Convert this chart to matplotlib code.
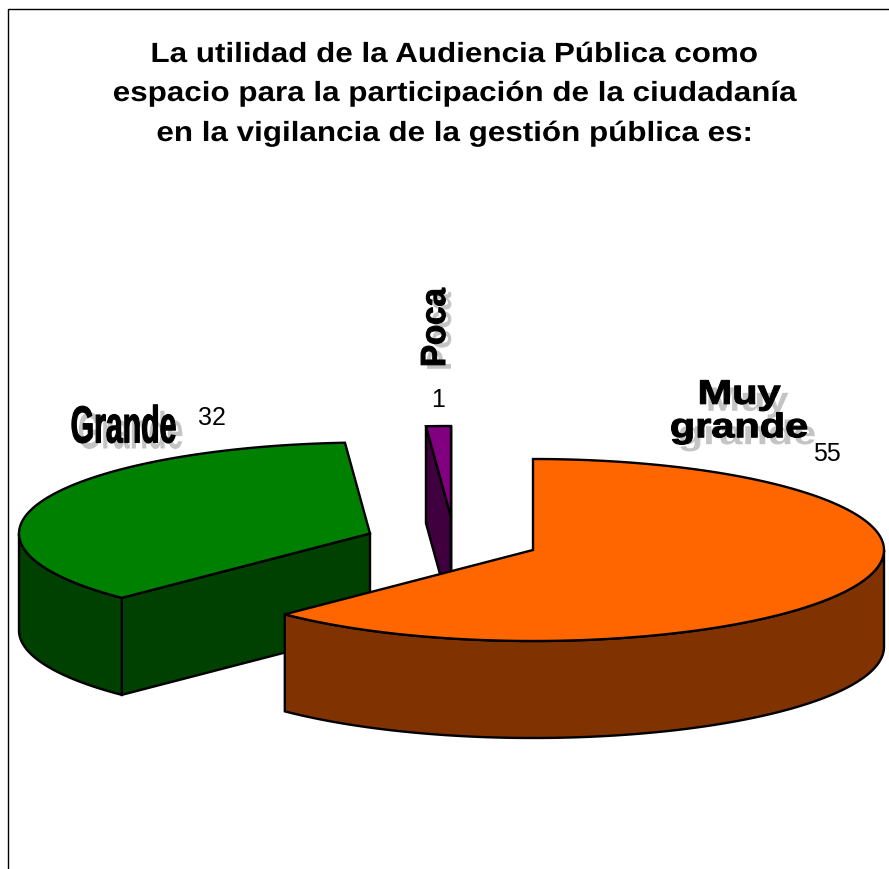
import numpy as np
import matplotlib
matplotlib.use("Agg")
import matplotlib.pyplot as plt
from matplotlib.patches import Polygon
from matplotlib.patheffects import AbstractPathEffect
from matplotlib.transforms import Affine2D

# --- data ---
categories = ["Muy\ngrande", "Grande", "Poca"]
values = [55, 32, 1]
top_colors = ["#FF6600", "#008000", "#800080"]
side_colors = ["#803300", "#004000", "#400040"]
title_lines = ["La utilidad de la Audiencia Pública como",
               "espacio para la participación de la ciudadanía",
               "en la vigilancia de la gestión pública es:"]

# --- layout (pixels of an 889x870 canvas) ---
W, H = 889, 870
RX, RY, DEPTH = 351, 91, 97
centres = [(533, 551), (370, 534.5), (451, 518)]
draw_order = [1, 2, 0]

fig = plt.figure(figsize=(W / 100, H / 100), dpi=100)
ax = fig.add_axes([0, 0, 1, 1])
ax.set_xlim(0, W)
ax.set_ylim(H, 0)
ax.axis("off")
LW = 1.7


class Stretch(AbstractPathEffect):
    """Scale real text about a canvas point, as the WordArt-like labels are."""

    def __init__(self, x, y, sx=1.0, sy=1.0, stroke=0.0):
        super().__init__()
        self.t = (Affine2D().translate(-x, -(H - y)).scale(sx, sy)
                  .translate(x, H - y))
        self.stroke = stroke

    def draw_path(self, renderer, gc, tpath, affine, rgbFace=None):
        gc0 = renderer.new_gc()
        gc0.copy_properties(gc)
        gc0.set_linewidth(self.stroke)
        if self.stroke > 0:
            gc0.set_foreground(rgbFace)
        renderer.draw_path(gc0, tpath, affine + self.t, rgbFace)
        gc0.restore()


def arc(c, a0, a1, dy=0, n=200):
    t = np.radians(np.linspace(a0, a1, n))
    return np.column_stack([c[0] + RX * np.cos(t), c[1] - RY * np.sin(t) + dy])


# clockwise from 12 o'clock, each slice proportional to its value
total = sum(values)
starts = 90 - 360 * np.cumsum([0] + values[:-1]) / total
ends = 90 - 360 * np.cumsum(values) / total


def poly(pts, color, z):
    ax.add_patch(Polygon(pts, closed=True, facecolor=color, edgecolor="black",
                         linewidth=LW, joinstyle="miter", zorder=z))


z = 1
for i in draw_order:
    c, a0, a1 = centres[i], starts[i], ends[i]
    apex = np.array([c])
    for ang in (a0, a1):
        p = arc(c, ang, ang, n=1)
        is_visible = (i == 1 and ang == a0) or (i == 2)
        if is_visible:
            wall = np.vstack([apex, p, p + [0, DEPTH], apex + [0, DEPTH]])
            poly(wall, side_colors[i], z)
            z += 1
    lo, hi = min(a0, a1), max(a0, a1)
    vis = []
    for shift in (-360, 0, 360):
        l2, h2 = max(lo + shift, -180), min(hi + shift, 0)
        if l2 < h2:
            vis.append((l2, h2))
    for l2, h2 in vis:
        poly(np.vstack([arc(c, l2, h2), arc(c, h2, l2, dy=DEPTH)]), side_colors[i], z)
        z += 1
    poly(np.vstack([apex, arc(c, a0, a1)]), top_colors[i], z)
    z += 1

# frame
ax.plot([8, 8, W], [H - 1, 9.5, 9.5], color="black", lw=1.0, zorder=z, clip_on=False)

# title
title_y = [56, 95, 135]
for line, y in zip(title_lines, title_y):
    t = ax.text(454, y, line, ha="center", va="center", fontsize=20, fontweight="bold",
                family=["Liberation Sans", "DejaVu Sans"], zorder=z)
    t.set_path_effects([Stretch(454, y, sx=1.13)])

# category labels with their grey shadows
label_style = [
    dict(x=739, y=413, fs=24.5, rot=0, dx=8, dy=7, ls=1.1, sx=1.22, sy=1.0, st=0.8),
    dict(x=123.5, y=430, fs=37.5, rot=0, dx=7, dy=6, ls=1.0, sx=0.58, sy=1.0, st=0.8),
    dict(x=435.5, y=328.5, fs=25, rot=90, dx=6, dy=4, ls=1.0, sx=1.0, sy=0.95, st=0.8),
]
for name, s in zip(categories, label_style):
    for col, dx, dy, zz, stroke in (("#C4C4C4", s["dx"], s["dy"], z, 0.0),
                                    ("black", 0, 0, z + 1, s["st"])):
        x, y = s["x"] + dx, s["y"] + dy
        t = ax.text(x, y, name, ha="center", va="center",
                    fontsize=s["fs"], fontweight="bold",
                    family=["Liberation Sans", "DejaVu Sans"],
                    rotation=s["rot"], color=col, linespacing=s["ls"], zorder=zz)
        t.set_path_effects([Stretch(x, y, sx=s["sx"], sy=s["sy"], stroke=stroke)])

# value labels
value_pos = [(827, 454), (212, 418), (438, 400)]
for v, (x, y) in zip(values, value_pos):
    ax.text(x, y, str(v), ha="center", va="center", fontsize=18,
            family=["Liberation Sans", "DejaVu Sans"], zorder=z + 2)

fig.savefig("out.png", dpi=100, facecolor="white")
